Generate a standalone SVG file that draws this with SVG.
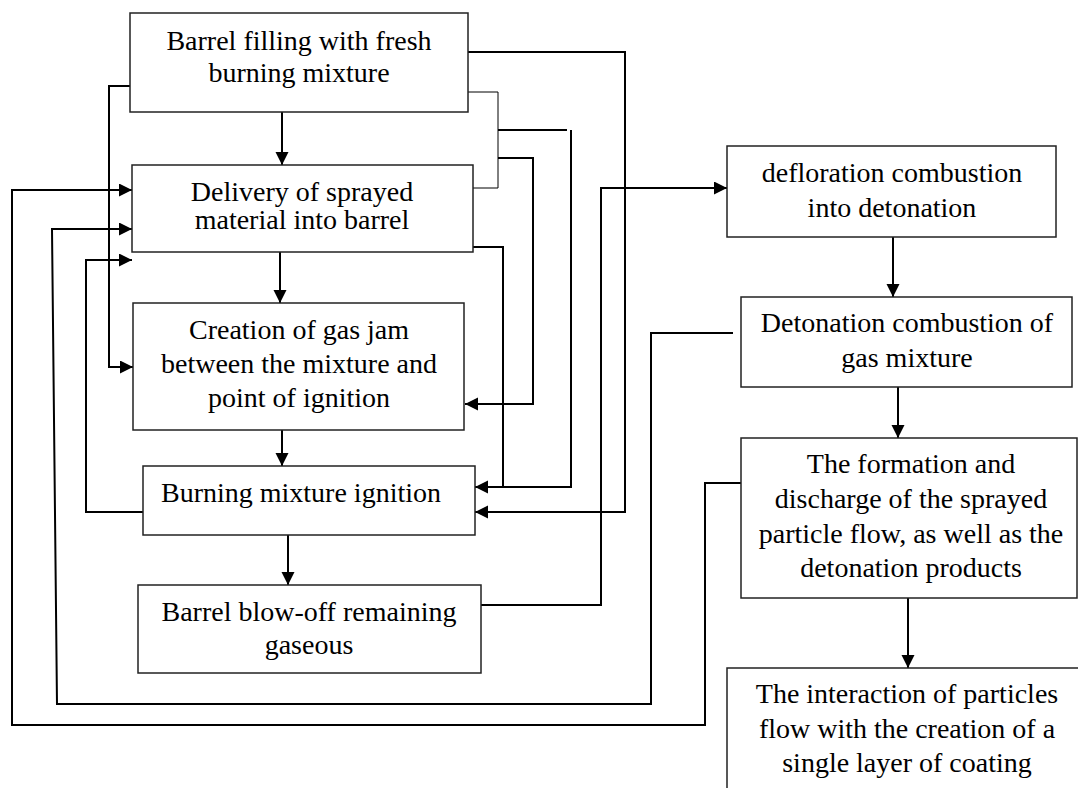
<svg xmlns="http://www.w3.org/2000/svg" width="1078" height="788" viewBox="0 0 1078 788">
<defs>
<marker id="arr" markerUnits="userSpaceOnUse" markerWidth="14" markerHeight="14" refX="13" refY="6.5" orient="auto">
<path d="M0,0 L13,6.5 L0,13 z" fill="#000"/>
</marker>
<style>
.box{fill:#fff;stroke:#222;stroke-width:1.5}
.t{font-family:"Liberation Serif","Times New Roman",serif;font-size:28px;fill:#000;text-anchor:middle}
.c{fill:none;stroke:#000;stroke-width:2}
.ca{fill:none;stroke:#000;stroke-width:2;marker-end:url(#arr)}
.thin{fill:none;stroke:#000;stroke-width:1}
</style>
</defs>
<rect width="1078" height="788" fill="#fff"/>
<g id="connectors">
<path class="ca" d="M282,112 V165"/>
<path class="ca" d="M280,252 V303"/>
<path class="ca" d="M282,430 V466"/>
<path class="ca" d="M288,535 V585"/>
<path class="ca" d="M130,86 H109 V367 H133"/>
<path class="ca" d="M143,512 H86 V260 H132"/>
<path class="ca" d="M741,483 H705 V725 H12 V190 H132"/>
<path class="ca" d="M733,333 H651 V704 H57 L52,229 H132"/>
<path class="ca" d="M481,605 H601 V188 H727"/>
<path class="ca" d="M468,52 H625 V512 H475"/>
<path class="ca" d="M473,247 H503 V487 H475"/>
<path class="thin" d="M468,92 H498 V188 H473"/>
<path class="c" d="M498,130 H567"/>
<path class="c" d="M571,130 V487 H503"/>
<path class="ca" d="M498,158 H533 V404 H465"/>
<path class="ca" d="M893,237 V297"/>
<path class="ca" d="M898,387 V438"/>
<path class="ca" d="M908,598 V668"/>
</g>
<g id="n1">
<rect class="box" x="130" y="13" width="338" height="99"/>
<text class="t" x="299" y="50">Barrel filling with fresh</text>
<text class="t" x="299" y="82">burning mixture</text>
</g>
<g id="n2">
<rect class="box" x="132" y="165" width="341" height="87"/>
<text class="t" x="302" y="201">Delivery of sprayed</text>
<text class="t" x="302" y="229">material into barrel</text>
</g>
<g id="n3">
<rect class="box" x="133" y="303" width="331" height="127"/>
<text class="t" x="299" y="339">Creation of gas jam</text>
<text class="t" x="299" y="373">between the mixture and</text>
<text class="t" x="299" y="407">point of ignition</text>
</g>
<g id="n4">
<rect class="box" x="143" y="466" width="332" height="69"/>
<text class="t" x="301" y="502">Burning mixture ignition</text>
</g>
<g id="n5">
<rect class="box" x="138" y="585" width="343" height="88"/>
<text class="t" x="309" y="621">Barrel blow-off remaining</text>
<text class="t" x="309" y="654">gaseous</text>
</g>
<g id="n6">
<rect class="box" x="727" y="146" width="329" height="91"/>
<text class="t" x="892" y="182">defloration combustion</text>
<text class="t" x="892" y="217">into detonation</text>
</g>
<g id="n7">
<rect class="box" x="741" y="297" width="331" height="90"/>
<text class="t" x="907" y="332">Detonation combustion of</text>
<text class="t" x="907" y="367">gas mixture</text>
</g>
<g id="n8">
<rect class="box" x="741" y="438" width="336" height="160"/>
<text class="t" x="911" y="473">The formation and</text>
<text class="t" x="911" y="508">discharge of the sprayed</text>
<text class="t" x="911" y="543">particle flow, as well as the</text>
<text class="t" x="911" y="577">detonation products</text>
</g>
<g id="n9">
<rect class="box" x="727" y="668" width="360" height="140"/>
<text class="t" x="907" y="703">The interaction of particles</text>
<text class="t" x="907" y="738">flow with the creation of a</text>
<text class="t" x="907" y="772">single layer of coating</text>
</g>
</svg>
